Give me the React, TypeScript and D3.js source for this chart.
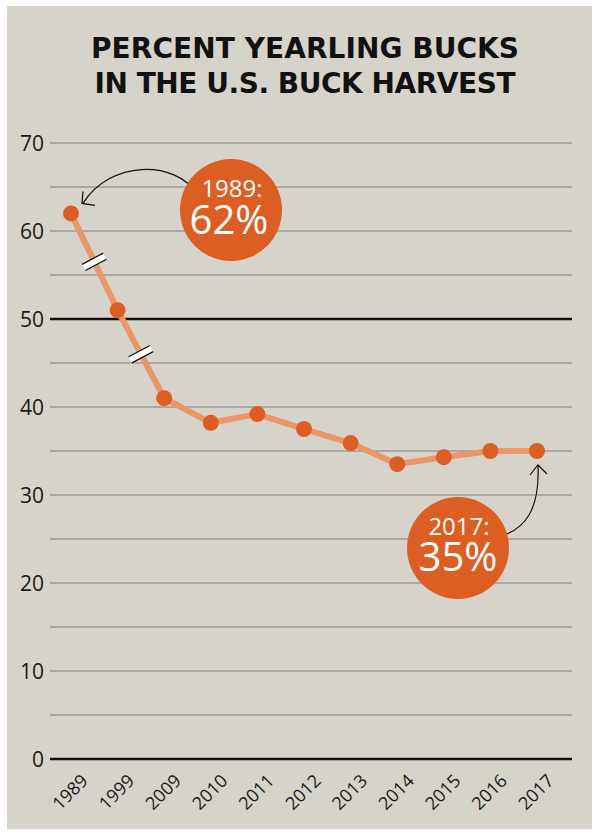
import React from 'react';
import * as d3 from 'd3';

const years = ['1989', '1999', '2009', '2010', '2011', '2012', '2013', '2014', '2015', '2016', '2017'];
const yearlingPct = [62, 51, 41, 38.2, 39.2, 37.5, 35.9, 33.5, 34.3, 35, 35];
const yTicks = [0, 10, 20, 30, 40, 50, 60, 70];
const gridLevels = [5, 15, 25, 35, 45, 55, 65];
const boldLevels = [0, 50];
const titleLines = ['PERCENT YEARLING BUCKS', 'IN THE U.S. BUCK HARVEST'];

const W = 592;
const H = 832;
const ORANGE = '#dd5e22';
const LINE = '#ea9667';

export default function App() {
  const x = d3.scalePoint<string>().domain(years).range([71, 537]);
  const y = d3.scaleLinear().domain([0, 70]).range([759, 143]);
  const pts = years.map((yr, i) => ({ yr, v: yearlingPct[i] }));
  const line = d3.line<{ yr: string; v: number }>().x(d => x(d.yr)!).y(d => y(d.v));

  // break marks on the first two (compressed) segments
  const breaks = [0, 1].map(i => {
    const x0 = x(years[i])!, y0 = y(yearlingPct[i]);
    const x1 = x(years[i + 1])!, y1 = y(yearlingPct[i + 1]);
    return { cx: (x0 + x1) / 2, cy: (y0 + y1) / 2 };
  });

  const first = { x: x(years[0])!, y: y(yearlingPct[0]) };
  const last = { x: x(years[years.length - 1])!, y: y(yearlingPct[yearlingPct.length - 1]) };
  const sans = '"Open Sans", sans-serif';

  return (
    <svg width={W} height={H} style={{ position: 'absolute', left: 0, top: 0 }}>
      <rect x={0} y={0} width={W} height={H} fill="#fff" />
      <rect x={7} y={6} width={W - 7} height={823} fill="#d6d3cb" />
      {titleLines.map((t, i) => (
        <text key={t} x={305} y={58 + i * 35} textAnchor="middle"
          textLength={i === 0 ? 428 : 421} lengthAdjust="spacing"
          style={{ fontFamily: '"DejaVu Sans", sans-serif', fontWeight: 700, fontSize: 28 }} fill="#111">{t}</text>
      ))}
      {gridLevels.concat(yTicks.filter(v => !boldLevels.includes(v))).map(v => (
        <line key={'g' + v} x1={50} x2={572} y1={y(v)} y2={y(v)} stroke="#9a9a9a" strokeWidth={1.5} />
      ))}
      {boldLevels.map(v => (
        <line key={'b' + v} x1={50} x2={572} y1={y(v)} y2={y(v)} stroke="#111" strokeWidth={2.4} />
      ))}
      {yTicks.map(v => (
        <text key={'t' + v} x={44} y={y(v) + 7.5} textAnchor="end"
          style={{ fontFamily: sans, fontSize: 21 }} fill="#1a1a1a">{v}</text>
      ))}
      {years.map(yr => (
        <text key={'x' + yr} transform={`translate(${x(yr)! + 18},${782}) rotate(-45)`} textAnchor="end"
          style={{ fontFamily: sans, fontSize: 18 }} fill="#1a1a1a">{yr}</text>
      ))}
      <path d={line(pts)!} fill="none" stroke={LINE} strokeWidth={6} />
      {breaks.map((b, i) => (
        <g key={'br' + i} transform={`translate(${b.cx},${b.cy}) rotate(-28)`}>
          <rect x={-12} y={-3.5} width={24} height={7} fill="#fff" />
          <line x1={-12} x2={12} y1={-3.5} y2={-3.5} stroke="#111" strokeWidth={1.3} />
          <line x1={-12} x2={12} y1={3.5} y2={3.5} stroke="#111" strokeWidth={1.3} />
        </g>
      ))}
      {pts.map(p => (
        <circle key={'p' + p.yr} cx={x(p.yr)} cy={y(p.v)} r={8} fill={ORANGE} />
      ))}

      {/* 1989 callout */}
      <path d={`M196,193 C175,160 110,160 ${first.x + 12},${first.y - 10}`} fill="none" stroke="#111" strokeWidth={1.2} />
      <path d={`M${first.x + 12},${first.y - 22} L${first.x + 11},${first.y - 10} L${first.x + 24},${first.y - 8}`} fill="none" stroke="#111" strokeWidth={1.2} />
      <circle cx={231} cy={210} r={51} fill={ORANGE} />
      <text x={232} y={197} textAnchor="middle" style={{ fontFamily: sans, fontSize: 24 }} fill="#fff">1989:</text>
      <text x={229} y={234} textAnchor="middle" style={{ fontFamily: sans, fontSize: 40, fontWeight: 500 }} fill="#fff">62%</text>

      {/* 2017 callout */}
      <path d={`M498,537 C525,530 540,510 ${last.x + 1},${last.y + 14}`} fill="none" stroke="#111" strokeWidth={1.2} />
      <path d={`M${last.x - 7},${last.y + 24} L${last.x + 1},${last.y + 14} L${last.x + 10},${last.y + 23}`} fill="none" stroke="#111" strokeWidth={1.2} />
      <circle cx={458} cy={548} r={51} fill={ORANGE} />
      <text x={459} y={535} textAnchor="middle" style={{ fontFamily: sans, fontSize: 24 }} fill="#fff">2017:</text>
      <text x={458} y={571} textAnchor="middle" style={{ fontFamily: sans, fontSize: 40, fontWeight: 500 }} fill="#fff">35%</text>
    </svg>
  );
}
